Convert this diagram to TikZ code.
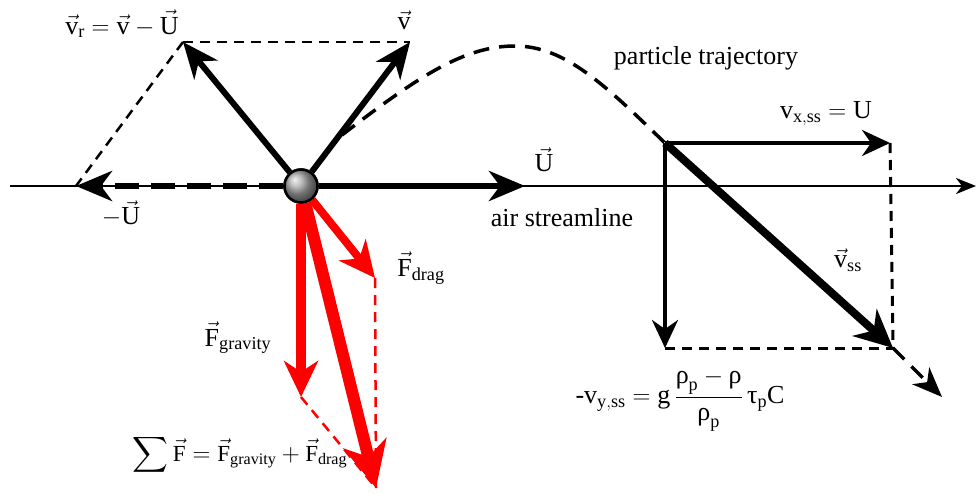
\documentclass[tikz,border=0pt]{standalone}
\usepackage{amsmath}
\usepackage{fontspec}
\setmainfont{Liberation Serif}
\usetikzlibrary{arrows.meta}

\newcommand{\vc}[1]{\vec{\mathrm{#1}}}
\newcommand{\urho}{\textrm{ρ}}
\newcommand{\utau}{\textrm{τ}}

\begin{document}
\begin{tikzpicture}[x=1pt, y=-1pt, font=\fontsize{26}{30}\selectfont,
    blackvec/.style={line width=6pt, -{Stealth[length=36pt,width=30pt,inset=11pt]}},
    compvec/.style={line width=3.5pt, -{Stealth[length=28pt,width=26pt,inset=9pt]}},
    redvec/.style={red, line width=#1, -{Stealth[length=36pt,width=34pt,inset=11pt]}},
    helper/.style={line width=2.5pt, dash pattern=on 10pt off 7pt},
    traj/.style={line width=3.5pt, dash pattern=on 16pt off 10pt}]
    \useasboundingbox (0,0) rectangle (976,493);

    % Points
    \coordinate (ax0) at (10,186);
    \coordinate (ax1) at (976,186);
    \coordinate (Utip) at (525,186);
    \coordinate (mUtip) at (76,186);
    \coordinate (vtip) at (410,42);
    \coordinate (vrtip) at (183,42);
    \coordinate (tstart) at (342,135);
    \coordinate (c) at (665,143);
    \coordinate (vx) at (890,143);
    \coordinate (vy) at (665,348);
    \coordinate (vss) at (893,348);
    \coordinate (trend) at (942,397);
    \coordinate (Fg) at (301,397);
    \coordinate (Fd) at (375,278);
    \coordinate (Fs) at (376,488);

    % Streamline
    \draw[line width=2.5pt, -{Stealth[length=20pt,width=16pt,inset=6pt]}] (ax0) -- (ax1);

    % Particle
    \node[circle, draw, line width=2.5pt, ball color=gray!70, minimum size=33pt, inner sep=0pt] (p) at (301,186) {};

    % Parallelogram of velocities
    \draw[helper] (vrtip) -- (vtip);
    \draw[helper] (vrtip) -- (mUtip);
    \draw[line width=6pt, dash pattern=on 24pt off 12pt, -{Stealth[length=36pt,width=30pt,inset=11pt]}] (p) -- (mUtip);
    \draw[blackvec] (p) -- (Utip);
    \draw[blackvec] (p) -- (vtip);
    \draw[blackvec] (p) -- (vrtip);

    % Trajectory
    \draw[traj] (tstart) .. controls (420,75) and (465,46) .. (515,46)
                         .. controls (565,46) and (605,85) .. (c);
    \draw[traj, -{Stealth[length=30pt,width=24pt,inset=9pt]}] (vss) -- (trend);

    % Steady state components
    \draw[helper, line width=3pt] (vx) -- (vss);
    \draw[helper, line width=3pt] (vy) -- (vss);
    \draw[compvec] (c) -- (vx);
    \draw[compvec] (c) -- (vy);
    \draw[line width=8pt, -{Stealth[length=38pt,width=36pt,inset=12pt]}] (c) -- (vss);

    % Forces
    \draw[red, helper] (Fd) -- (Fs);
    \draw[red, helper] (Fg) -- (Fs);
    \draw[redvec=10pt] (p) -- (Fg);
    \draw[redvec=8pt] (p) -- (Fd);
    \draw[red, line width=12pt, -{Stealth[length=46pt,width=44pt,inset=14pt]}] (p) -- (Fs);
    \node[circle, draw, line width=2.5pt, ball color=gray!70, minimum size=33pt, inner sep=0pt] at (p) {};

    % Labels
    \node (lvr) at (122,24) {$\vc{v}_{\mathrm{r}} = \vc{v} - \vc{U}$};
    \node (lv) at (404,20) {$\vc{v}$};
    \node (lmU) at (121,214) {$-\vc{U}$};
    \node (lU) at (544,160) {$\vc{U}$};
    \node (lair) at (562,218) {air streamline};
    \node (ltraj) at (706,58) {particle trajectory};
    \node (lvx) at (826,114) {$\mathrm{v}_{\mathrm{x,ss}} = \mathrm{U}$};
    \node (lvss) at (848,260) {$\vc{v}_{\mathrm{ss}}$};
    \node (lvy) at (680,400) {$\text{-v}_{\mathrm{y,ss}} = \mathrm{g}\,\dfrac{\urho_{\mathrm{p}} - \urho}{\urho_{\mathrm{p}}}\,\utau_{\mathrm{p}}\mathrm{C}$};
    \node (lFd) at (421,268) {$\vc{F}_{\mathrm{drag}}$};
    \node (lFg) at (238,338) {$\vc{F}_{\mathrm{gravity}}$};
    \node[font=\fontsize{23}{27}\selectfont] (lFs) at (240,455) {$\displaystyle\sum\vc{F} = \vc{F}_{\mathrm{gravity}} + \vc{F}_{\mathrm{drag}}$};
\end{tikzpicture}
\end{document}
